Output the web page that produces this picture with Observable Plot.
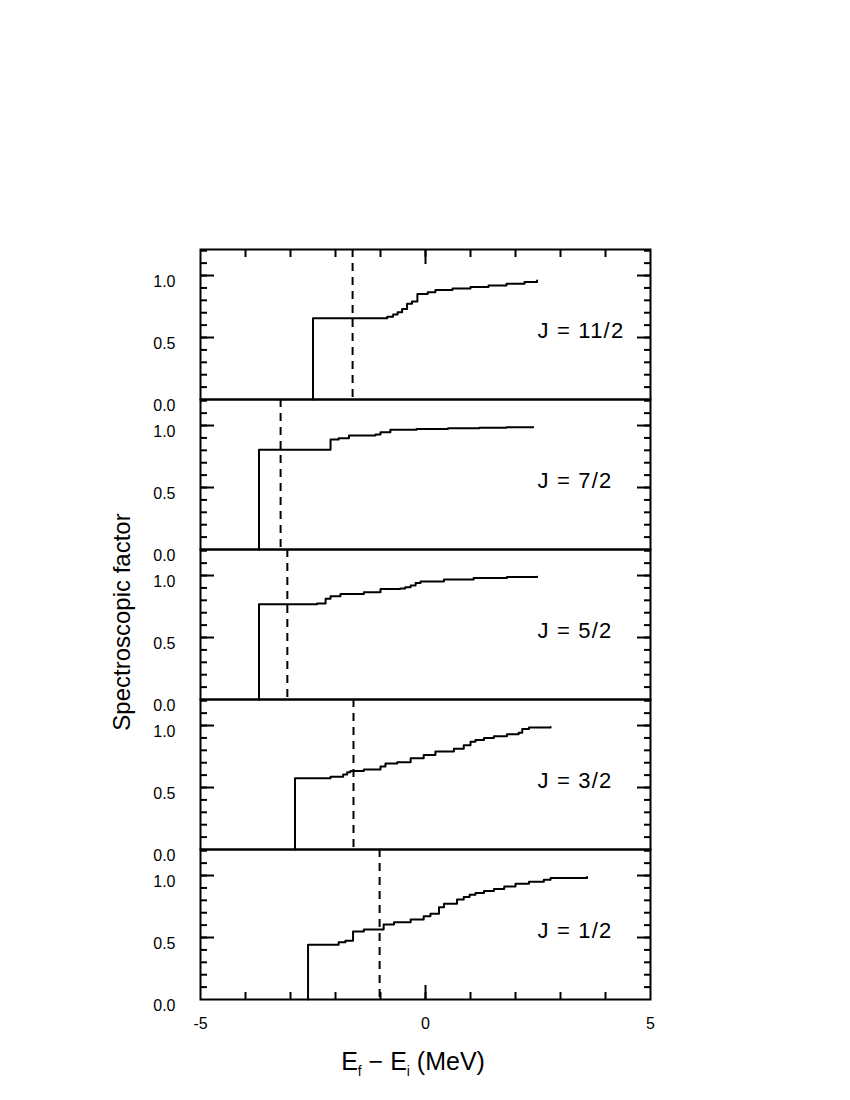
<!DOCTYPE html>
<html><head><meta charset="utf-8">
<script src="https://cdn.jsdelivr.net/npm/d3@7"></script>
<script src="https://cdn.jsdelivr.net/npm/@observablehq/plot@0.6"></script>
<style>
body{margin:0;background:#fff;font-family:"Liberation Sans",Arial,sans-serif;color:#000;}
#wrap{position:relative;width:850px;height:1100px;}
#ylab{position:absolute;left:122px;top:622px;transform:translate(-50%,-50%) rotate(-90deg);font-size:24px;white-space:nowrap;}
#xlab{position:absolute;left:413px;top:1063px;transform:translate(-50%,-50%);font-size:25px;white-space:nowrap;}
#xlab sub{font-size:0.55em;vertical-align:-0.4em;}
#chart g[aria-label="text"] text{letter-spacing:1.2px;}
</style></head>
<body><div id="wrap"><div id="chart"></div><div id="ylab">Spectroscopic factor</div><div id="xlab">E<sub>f</sub> − E<sub>i</sub> (MeV)</div></div>
<script>
const panels = ["J = 11/2","J = 7/2","J = 5/2","J = 3/2","J = 1/2"];

const J11_E = [-2.50,-0.85,-0.72,-0.62,-0.52,-0.41,-0.30,-0.18,0.05,0.22,0.6,1.0,1.4,1.8,2.2,2.48];
const J11_S = [0.656,0.668,0.685,0.704,0.731,0.772,0.790,0.852,0.866,0.884,0.896,0.908,0.920,0.933,0.947,0.960];

const J7_E = [-3.70,-2.11,-1.93,-1.70,-1.11,-1.00,-0.78,-0.2,0.5,1.2,1.8,2.39];
const J7_S = [0.804,0.887,0.898,0.919,0.927,0.945,0.966,0.972,0.978,0.983,0.987,0.989];

const J5_E = [-3.70,-2.41,-2.22,-2.11,-1.89,-1.37,-1.00,-0.56,-0.45,-0.33,-0.22,-0.11,0.41,1.07,1.81,2.48];
const J5_S = [0.769,0.775,0.812,0.833,0.852,0.866,0.892,0.895,0.905,0.920,0.940,0.952,0.968,0.981,0.989,0.990];

const J3_E = [-2.90,-2.11,-1.83,-1.74,-1.67,-1.37,-1.00,-0.89,-0.63,-0.33,-0.04,0.22,0.63,0.85,1.00,1.11,1.30,1.52,1.81,2.07,2.15,2.30,2.78];
const J3_S = [0.575,0.586,0.605,0.624,0.634,0.645,0.669,0.694,0.704,0.737,0.763,0.790,0.812,0.840,0.870,0.884,0.900,0.914,0.930,0.941,0.973,0.984,0.989];

const J1_E = [-2.61,-1.93,-1.78,-1.61,-1.37,-0.93,-0.70,-0.33,-0.04,0.11,0.30,0.41,0.70,0.85,0.98,1.11,1.30,1.52,1.75,2.00,2.30,2.63,2.78,3.59];
const J1_S = [0.441,0.461,0.473,0.548,0.565,0.605,0.624,0.645,0.672,0.691,0.745,0.772,0.806,0.826,0.845,0.860,0.875,0.892,0.912,0.933,0.950,0.965,0.981,0.989];

const dashE = [-1.62,-3.22,-3.07,-1.60,-1.02];

const yMinorTicks = [0.1,0.2,0.3,0.4,0.5,0.6,0.7,0.8,0.9,1.0,1.1,1.2];
const yMajorTicks = [0.5,1.0];
const yTickLabels = [0,0.5,1.0];
const xMinorTicks = [-4,-3,-2,-1,0,1,2,3,4];
const xMajorTicks = [0];
const xTickLabels = [-5,0,5];

const series = [[panels[0],J11_E,J11_S],[panels[1],J7_E,J7_S],[panels[2],J5_E,J5_S],[panels[3],J3_E,J3_S],[panels[4],J1_E,J1_S]];
const rows = [];
series.forEach(([J,E,S]) => {
  rows.push({J, E:E[0], S:0});
  E.forEach((e,i) => rows.push({J, E:e, S:S[i]}));
});
const dashRows = panels.map((J,i) => ({J, E:dashE[i]}));

const tickStyle = {label:null, fill:"none", stroke:"black", strokeWidth:2};
const chart = Plot.plot({
  width:850, height:1100,
  marginTop:249, marginBottom:101, marginLeft:200, marginRight:200,
  x:{domain:[-5,5]},
  y:{domain:[0,1.21]},
  fy:{domain:panels, padding:0, axis:null},
  style:{fontFamily:"Liberation Sans, Arial, sans-serif", fontSize:"16px", color:"black", background:"white", overflow:"visible"},
  marks:[
    Plot.ruleX(dashRows, {x:"E", fy:"J", stroke:"black", strokeWidth:2, strokeDasharray:"8,6"}),
    Plot.line(rows, {x:"E", y:"S", fy:"J", z:"J", curve:"step-after", stroke:"black", strokeWidth:2}),
    Plot.frame({stroke:"black", strokeWidth:2}),
    Plot.axisY({anchor:"left", ticks:yMinorTicks, tickSize:-7, ...tickStyle}),
    Plot.axisY({anchor:"left", ticks:yMajorTicks, tickSize:-14, ...tickStyle}),
    Plot.axisY({anchor:"right", ticks:yMinorTicks, tickSize:-7, ...tickStyle}),
    Plot.axisY({anchor:"right", ticks:yMajorTicks, tickSize:-14, ...tickStyle}),
    Plot.axisY({anchor:"left", ticks:yTickLabels, tickSize:0, tickPadding:25, dy:6, label:null, tickFormat:d3.format(".1f"), fill:"black"}),
    Plot.axisX({anchor:"top", ticks:xMinorTicks, tickSize:-7, ...tickStyle}),
    Plot.axisX({anchor:"top", ticks:xMajorTicks, tickSize:-14, ...tickStyle}),
    Plot.axisX({anchor:"bottom", ticks:xMinorTicks, tickSize:-7, ...tickStyle}),
    Plot.axisX({anchor:"bottom", ticks:xMajorTicks, tickSize:-14, ...tickStyle}),
    Plot.axisX({anchor:"bottom", ticks:xTickLabels, tickSize:0, tickPadding:18, label:null, tickFormat:d=>String(d), fill:"black"}),
    Plot.text(panels, {fy:d=>d, text:d=>d, frameAnchor:"right", textAnchor:"start", dx:-113, dy:6, fontSize:22, fill:"black"})
  ]
});
document.getElementById("chart").appendChild(chart);
</script>
</body></html>
